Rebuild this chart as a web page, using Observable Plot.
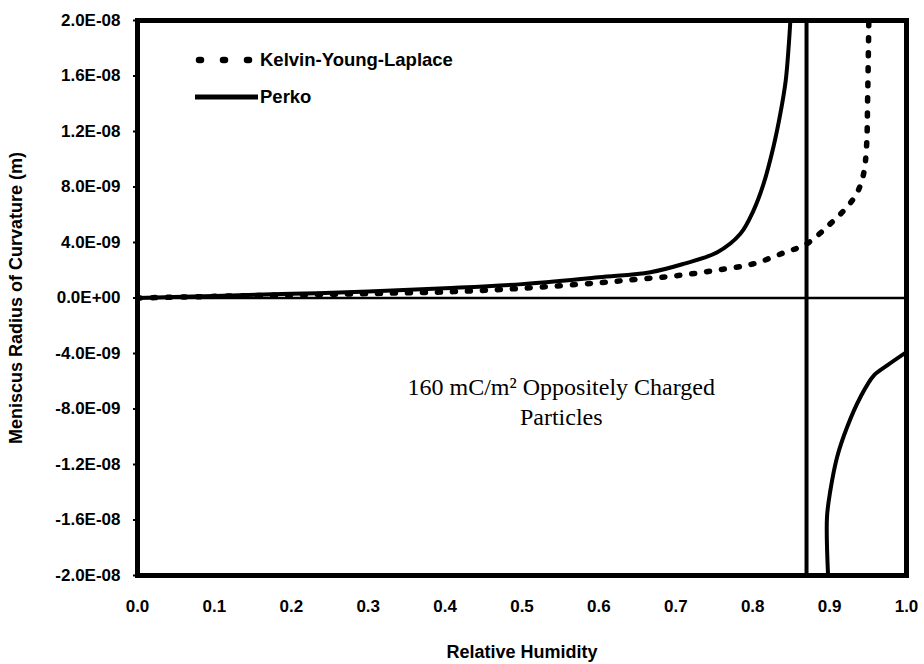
<!DOCTYPE html>
<html><head><meta charset="utf-8">
<script src="https://cdn.jsdelivr.net/npm/d3@7"></script>
<script src="https://cdn.jsdelivr.net/npm/@observablehq/plot@0.6"></script>
<style>
body{margin:0;background:#fff;}
#wrap{position:relative;width:924px;height:664px;}
#legend{position:absolute;left:0;top:0;width:924px;height:664px;pointer-events:none;}
</style></head><body><div id="wrap"></div>
<script>
// Kelvin-Young-Laplace (dotted)
const kylRH = [0.0, 0.05, 0.1, 0.2, 0.3, 0.4, 0.5, 0.6, 0.65, 0.7, 0.75, 0.8, 0.84, 0.87, 0.9, 0.92, 0.935, 0.944, 0.948, 0.9495, 0.951];
const kylR  = [0, 0.6e-10, 1.2e-10, 2.2e-10, 3.2e-10, 4.4e-10, 7.0e-10, 1.1e-9, 1.35e-9, 1.6e-9, 1.98e-9, 2.45e-9, 3.25e-9, 3.9e-9, 5.3e-9, 6.4e-9, 7.5e-9, 8.9e-9, 1.09e-8, 1.45e-8, 2.0e-8];
// Perko, upper branch
const perkoRH = [0.0, 0.1, 0.2, 0.3, 0.4, 0.5, 0.6, 0.667, 0.71, 0.754, 0.784, 0.801, 0.814, 0.827, 0.836, 0.843, 0.847, 0.849];
const perkoR  = [0, 1.5e-10, 3.0e-10, 4.6e-10, 7.0e-10, 1.0e-9, 1.5e-9, 1.86e-9, 2.46e-9, 3.3e-9, 4.63e-9, 6.3e-9, 8.2e-9, 1.09e-8, 1.33e-8, 1.57e-8, 1.83e-8, 2.0e-8];
// Perko, lower branch
const perkoLowRH = [0.898, 0.8966, 0.901, 0.9097, 0.9227, 0.940, 0.9574, 0.9749, 1.0];
const perkoLowR  = [-2.0e-8, -1.58e-8, -1.387e-8, -1.147e-8, -9.31e-9, -7.15e-9, -5.59e-9, -4.86e-9, -3.9e-9];
// vertical asymptote
const asymptoteRH = [0.87];
// ticks
const xTicks = [0, 0.1, 0.2, 0.3, 0.4, 0.5, 0.6, 0.7, 0.8, 0.9, 1.0];
const yTicks = [-2.0e-8, -1.6e-8, -1.2e-8, -8.0e-9, -4.0e-9, 0, 4.0e-9, 8.0e-9, 1.2e-8, 1.6e-8, 2.0e-8];
// texts
const seriesNames = ["Kelvin-Young-Laplace", "Perko"];
const annotationText = "160 mC/m\u00B2 Oppositely Charged\nParticles";
const annotationX = [0.551];
const annotationY = [-7.4e-9];
const xTitle = "Relative Humidity";
const yTitle = "Meniscus Radius of Curvature (m)";

function sci(d) {
  if (d === 0) return "0.0E+00";
  const e = Math.floor(Math.log10(Math.abs(d)) + 1e-9);
  const m = d / Math.pow(10, e);
  return m.toFixed(1) + "E" + (e < 0 ? "-" : "+") + String(Math.abs(e)).padStart(2, "0");
}

const kyl = kylRH.map((x, i) => ({x, y: kylR[i]}));
const perko = perkoRH.map((x, i) => ({x, y: perkoR[i]}));
const perkoLow = perkoLowRH.map((x, i) => ({x, y: perkoLowR[i]}));
const annot = annotationX.map((x, i) => ({x, y: annotationY[i], t: annotationText}));

const font = '"Liberation Sans", Arial, sans-serif';
const plot = Plot.plot({
  width: 924, height: 664,
  marginLeft: 137, marginRight: 18, marginTop: 20, marginBottom: 89,
  style: {fontFamily: font, fontSize: "17px", fontWeight: "bold", color: "#000", background: "#fff"},
  x: {domain: [0, 1]},
  y: {domain: [-2e-8, 2e-8]},
  marks: [
    Plot.ruleY([0], {stroke: "#000", strokeWidth: 2.5}),
    Plot.ruleX(asymptoteRH, {stroke: "#000", strokeWidth: 4}),
    Plot.line(kyl, {x: "x", y: "y", stroke: "#000", strokeWidth: 5.5, strokeDasharray: "3 12", strokeLinecap: "round", curve: "catmull-rom", clip: true}),
    Plot.line(perko, {x: "x", y: "y", stroke: "#000", strokeWidth: 4, curve: "catmull-rom", clip: true}),
    Plot.line(perkoLow, {x: "x", y: "y", stroke: "#000", strokeWidth: 4, curve: "catmull-rom", clip: true}),
    Plot.text(annot, {x: "x", y: "y", text: "t", fontFamily: '"Liberation Serif", "Times New Roman", serif', fontSize: 24, fontWeight: "normal", lineHeight: 1.25, textAnchor: "middle", fill: "#000"}),
    Plot.frame({stroke: "#000", strokeWidth: 5}),
    Plot.axisX({ticks: xTicks, tickSize: 0, tickPadding: 24, tickFormat: d => d.toFixed(1), fontSize: 17, label: null}),
    Plot.axisX({ticks: [], label: xTitle, labelAnchor: "center", labelArrow: "none", labelOffset: 82, fontSize: 18}),
    Plot.axisY({ticks: yTicks, tickSize: 4, tickPadding: 13, strokeWidth: 2, tickFormat: sci, fontSize: 17, label: null}),
    Plot.axisY({ticks: [], label: yTitle, labelAnchor: "center", labelArrow: "none", labelOffset: 128, fontSize: 18})
  ]
});
const wrap = document.getElementById("wrap");
wrap.appendChild(plot);

// legend overlay
const ns = "http://www.w3.org/2000/svg";
const lg = document.createElementNS(ns, "svg");
lg.setAttribute("id", "legend");
lg.setAttribute("width", 924); lg.setAttribute("height", 664);
const rows = [{y: 60, dash: "2 22"}, {y: 97, dash: null}];
seriesNames.forEach((name, i) => {
  const r = rows[i];
  const ln = document.createElementNS(ns, "line");
  ln.setAttribute("x1", r.dash ? 199 : 195); ln.setAttribute("x2", r.dash ? 252 : 258);
  ln.setAttribute("y1", r.y); ln.setAttribute("y2", r.y);
  ln.setAttribute("stroke", "#000");
  ln.setAttribute("stroke-width", r.dash ? 6.5 : 5);
  if (r.dash) { ln.setAttribute("stroke-dasharray", r.dash); ln.setAttribute("stroke-linecap", "round"); }
  lg.appendChild(ln);
  const tx = document.createElementNS(ns, "text");
  tx.setAttribute("x", 260); tx.setAttribute("y", r.y);
  tx.setAttribute("dy", "0.35em");
  tx.setAttribute("font-family", font);
  tx.setAttribute("font-weight", "bold");
  tx.setAttribute("font-size", 18.5);
  tx.textContent = name;
  lg.appendChild(tx);
});
wrap.appendChild(lg);
</script>
</body></html>
